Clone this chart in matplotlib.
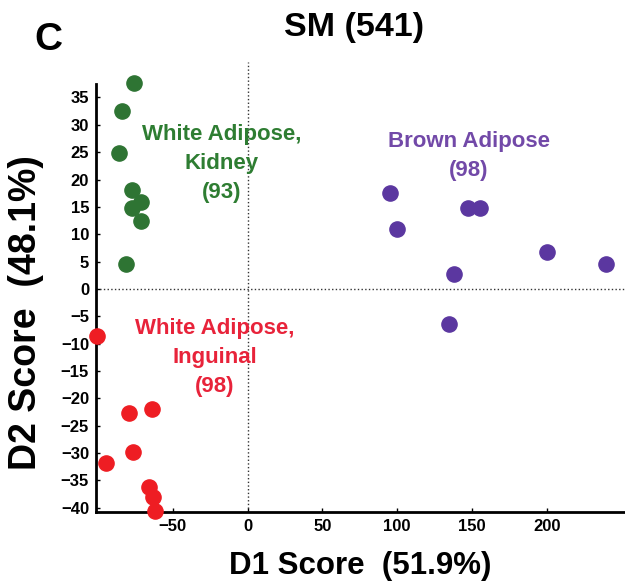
import matplotlib.pyplot as plt
import numpy as np

plt.rcParams['font.family'] = ['Liberation Sans', 'DejaVu Sans']
plt.rcParams['font.weight'] = 'bold'

# D1 / D2 scores
kidney_x = [-76, -84, -86, -77, -71, -77.4, -71, -81.5]
kidney_y = [37.7, 32.6, 24.9, 18.1, 15.8, 14.7, 12.4, 4.6]

inguinal_x = [-100.6, -79.4, -63.8, -76.3, -94.6, -65.6, -63.1, -61.6]
inguinal_y = [-8.7, -22.7, -22.0, -29.9, -31.8, -36.3, -38.1, -40.6]

brown_x = [95.3, 100, 147.5, 155.7, 137.7, 134.7, 200, 239.3]
brown_y = [17.6, 10.9, 14.7, 14.7, 2.7, -6.5, 6.8, 4.5]

xticks = [-50, 0, 50, 100, 150, 200]
yticks = [35, 30, 25, 20, 15, 10, 5, 0, -5, -10, -15, -20, -25, -30, -35, -40]

green = '#2e7433'
red = '#ee1d23'
purple = '#5b37a0'

fig = plt.figure(figsize=(6.25, 5.86), dpi=100)
ax = fig.add_axes([0.1536, 0.1263, 0.8464, 0.768])

ax.scatter(kidney_x, kidney_y, s=120, color=green, zorder=3, clip_on=False)
ax.scatter(inguinal_x, inguinal_y, s=120, color=red, zorder=3, clip_on=False)
ax.scatter(brown_x, brown_y, s=120, color=purple, zorder=3, clip_on=False)

ax.axhline(0, color='#333333', lw=1, ls=':', zorder=1)
ax.axvline(0, color='#333333', lw=1, ls=':', zorder=1)

ax.set_xlim(-101.3, 252.3)
ax.set_ylim(-40.8, 41.5)

for s in ['top', 'right']:
    ax.spines[s].set_visible(False)
ax.spines['left'].set_bounds(-40.8, 37.5)
ax.spines['left'].set_linewidth(2)
ax.spines['bottom'].set_linewidth(2)

ax.set_xticks(xticks)
ax.set_yticks(yticks)
ax.tick_params(direction='in', length=3, width=1, labelsize=12, pad=5)

ax.set_xlabel('D1 Score  (51.9%)', fontsize=22.5, fontweight='bold', labelpad=12)
ax.set_ylabel('D2 Score  (48.1%)', fontsize=27, fontweight='bold')
ax.yaxis.set_label_coords(-0.098, 0.444)

ax.text(-17.4, 23, 'White Adipose,\nKidney\n(93)', color='#2e7d32', fontsize=16,
        fontweight='bold', ha='center', va='center', linespacing=1.5)
ax.text(-22, -12.6, 'White Adipose,\nInguinal\n(98)', color='#e8233a', fontsize=16,
        fontweight='bold', ha='center', va='center', linespacing=1.5)
ax.text(148, 24.3, 'Brown Adipose\n(98)', color='#7249a8', fontsize=16,
        fontweight='bold', ha='center', va='center', linespacing=1.5)

fig.text(0.566, 0.953, 'SM (541)', fontsize=24.5, fontweight='bold', ha='center', va='center')
fig.text(0.077, 0.932, 'C', fontsize=28, fontweight='bold', ha='center', va='center')

fig.savefig('out.png', dpi=100)
